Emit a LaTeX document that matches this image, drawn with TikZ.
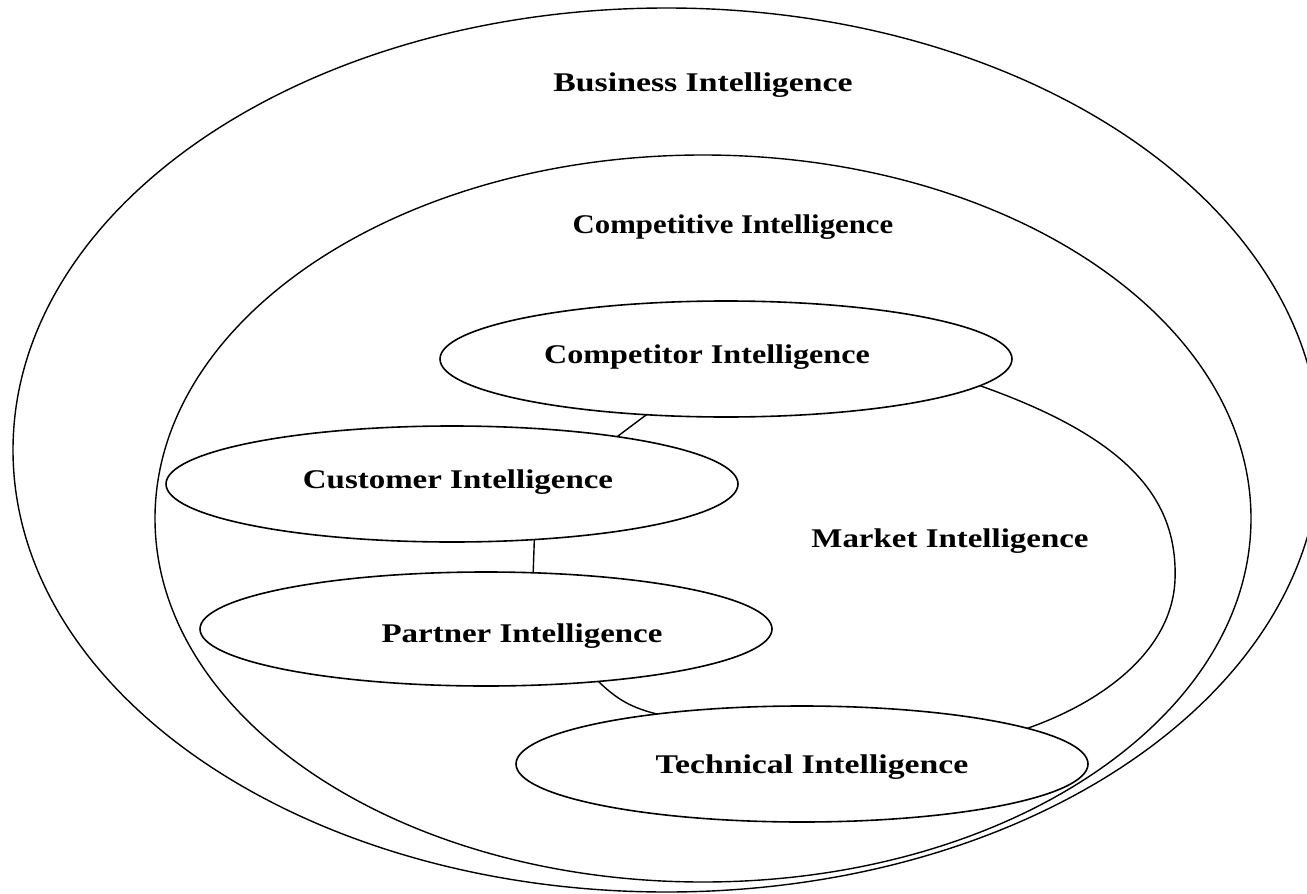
\documentclass[tikz,border=0pt]{standalone}
\usepackage{fontspec}
\setmainfont{Liberation Serif}[FakeStretch=1.22]
\newfontfamily\wideA{Liberation Serif}[FakeStretch=1.25]
\newfontfamily\wideC{Liberation Serif}[FakeStretch=1.19]
\newfontfamily\wideD{Liberation Serif}[FakeStretch=1.14]
\usetikzlibrary{shapes.geometric}
\begin{document}
\begin{tikzpicture}[x=0.5pt,y=-0.5pt,
  ring/.style={draw, ellipse, line width=0.7pt, inner sep=0pt, outer sep=0pt},
  blob/.style={draw, ellipse, line width=0.8pt, inner sep=0pt, outer sep=0pt,
               minimum width=286pt, minimum height=58pt},
  lbl/.style={anchor=base, inner sep=0pt, font=\fontsize{13.5}{16}\selectfont\bfseries},
  link/.style={line width=0.7pt}]
\useasboundingbox (0,0) rectangle (1307,894);
% outer rings
\node[ring, minimum width=653.5pt, minimum height=442pt] (bi) at (666.5,450) {};
\node[ring, minimum width=548pt, minimum height=363.5pt] (ci) at (703,518.5) {};
% inner ellipses
\node[blob] (compI) at (726,359) {};
\node[blob] (custI) at (452,484) {};
\node[blob, minimum height=57pt] (partI) at (486,629) {};
\node[blob] (techI) at (802,764) {};
% labels
\node[lbl] (tBus)  at (703,91)  {\wideA\bfseries Business Intelligence};
\node[lbl] (tCve)  at (733,233) {\wideD\bfseries Competitive Intelligence};
\node[lbl] (tCor)  at (707,363) {\wideC\bfseries Competitor Intelligence};
\node[lbl] (tCus)  at (458,488) {Customer Intelligence};
\node[lbl] (tPar)  at (522,642) {Partner Intelligence};
\node[lbl] (tMkt)  at (950,547) {Market Intelligence};
\node[lbl] (tTec)  at (812,773) {\wideA\bfseries Technical Intelligence};
% connectors
\coordinate (mktR) at (1175,580);
\draw[link] (compI.215.7) -- (custI.16.6);
\draw[link] (custI.-34.8) -- (partI.50.7);
\draw[link] (partI.-25.3) to[bend right=15] (techI.161.5);
\draw[link] (compI.-6.3) .. controls +(150,53) and +(3,-80) .. (mktR)
  .. controls +(-3,70) and +(77,-27) .. (techI.9.5);
\end{tikzpicture}
\end{document}
